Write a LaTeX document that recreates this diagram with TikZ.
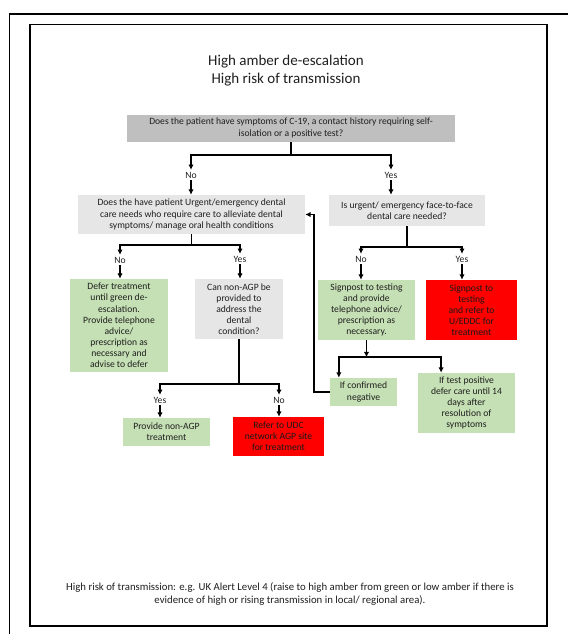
\documentclass[tikz,border=0pt]{standalone}
\usepackage{fontspec}
\setmainfont{Carlito}
\usepackage{tikz}
\usetikzlibrary{
  arrows.meta,%
  positioning,%
  calc
}
\definecolor{darkgrey}{RGB}{191,191,191}
\definecolor{lightgrey}{RGB}{231,230,230}
\definecolor{palegreen}{RGB}{197,224,180}
\definecolor{alertred}{RGB}{255,0,0}
\newcommand{\flowfont}{\fontsize{8.2}{9.5}\selectfont}
\tikzset{>={Latex[length=4.5pt,width=4.5pt]}}
\tikzset{
  flowbox/.style={inner sep=0pt, align=center, font=\flowfont, text=black!88},
  question/.style={flowbox, fill=lightgrey},
  action/.style={flowbox, fill=palegreen},
  referbox/.style={flowbox, fill=alertred, text=black!90},
  answer/.style={font=\flowfont, inner sep=1.5pt, text=black!88},
  flowline/.style={line width=1.4pt},
}

\begin{document}
\begin{tikzpicture}[x=0.03cm, y=-0.03cm]
  \useasboundingbox (0,0) rectangle (568,634);
  % page frames
  \draw[line width=1.7pt] (9.5,650) |- (580,14);
  \draw[line width=0.9pt] (30,24.5) rectangle (547,626);

  \node[font=\fontsize{12.8}{15.3}\selectfont, align=center, text=black!88] (title) at (286,71)
    {High amber de-escalation\\High risk of transmission};

  % first question
  \node[flowbox, fill=darkgrey, minimum width=9.84cm, minimum height=0.81cm] (symptoms) at (291,128)
    {Does the patient have symptoms of C-19, a contact history requiring self-\\isolation or a positive test?};
  \node[answer] (no1) at (191,175) {No};
  \node[answer] (yes1) at (391,175) {Yes};

  \node[question, minimum width=6.81cm, minimum height=1.17cm] (urgent) at (191.5,214.5)
    {Does the have patient Urgent/emergency dental\\care needs who require care to alleviate dental\\symptoms/ manage oral health conditions};
  \node[question, minimum width=4.68cm, minimum height=0.93cm] (facetoface) at (407,210.5)
    {Is urgent/ emergency face-to-face\\dental care needed?};

  % left branch
  \node[answer] (no2) at (120,260) {No};
  \node[answer] (yes2) at (240,259) {Yes};
  \node[action, minimum width=2.94cm, minimum height=2.79cm] (defer) at (119,325.5)
    {Defer treatment\\until green de-\\escalation.\\Provide telephone\\advice/\\prescription as\\necessary and\\advise to defer};
  \node[question, minimum width=2.64cm, minimum height=1.8cm] (nonagp) at (239,309)
    {Can non-AGP be\\provided to\\address the\\dental\\condition?};
  \node[answer] (yes4) at (160,400) {Yes};
  \node[answer] (no4) at (279,400) {No};
  \node[action, minimum width=2.61cm, minimum height=0.84cm] (provide) at (166.5,432)
    {Provide non-AGP\\treatment};
  \node[referbox, minimum width=2.73cm, minimum height=1.17cm] (udc) at (278.5,436.5)
    {Refer to UDC\\network AGP site\\for treatment};

  % right branch
  \node[answer] (no3) at (361,259) {No};
  \node[answer] (yes3) at (462,259) {Yes};
  \node[action, minimum width=2.91cm, minimum height=1.8cm] (signpost) at (366.5,310)
    {Signpost to testing\\and provide\\telephone advice/\\prescription as\\necessary.};
  \node[referbox, minimum width=2.73cm, minimum height=1.8cm] (eddc) at (471.5,310)
    {Signpost to\\testing\\and refer to\\U/EDDC for\\treatment};
  \node[action, minimum width=2.01cm, minimum height=0.84cm] (negative) at (363.5,392)
    {If confirmed\\negative};
  \node[action, minimum width=2.91cm, minimum height=1.8cm] (positive) at (466.5,403)
    {If test positive\\defer care until 14\\days after\\resolution of\\symptoms};

  \node[font=\fontsize{9.2}{11.5}\selectfont, align=center, text=black!88] (note) at (290,594)
    {High risk of transmission: e.g. UK Alert Level 4 (raise to high amber from green or low amber if there is\\evidence of high or rising transmission in local/ regional area).};

  % connectors
  \draw[flowline] (symptoms.south) -- ++(0,13.5) coordinate (j1);
  \draw[flowline,->] (j1) -| (no1);
  \draw[flowline,->] (j1) -| (yes1);
  \draw[flowline,->] (no1) -- (no1 |- urgent.north);
  \draw[flowline,->] (yes1) -- (yes1 |- facetoface.north);

  \draw[flowline] (urgent.south) -- ++(0,11) coordinate (j2);
  \draw[flowline,->] (j2) -| (no2);
  \draw[flowline,->] (j2) -| (yes2);
  \draw[flowline,->] (no2) -- (no2 |- defer.north);
  \draw[flowline,->] (yes2) -- (yes2 |- nonagp.north);

  \draw[flowline] (nonagp.south) -- ++(0,45) coordinate (j4);
  \draw[flowline,->] (j4) -| (yes4);
  \draw[flowline,->] (j4) -| (no4);
  \draw[flowline,->] (yes4) -- (yes4 |- provide.north);
  \draw[flowline,->] (no4) -- (no4 |- udc.north);

  \draw[flowline] (facetoface.south) -- ++(0,21) coordinate (j3);
  \draw[flowline,->] (j3) -| (no3);
  \draw[flowline,->] (j3) -| (yes3);
  \draw[flowline,->] (no3) -- (no3 |- signpost.north);
  \draw[flowline,->] (yes3) -- (yes3 |- eddc.north);

  \draw[flowline,->] (signpost.south) -- ++(0,17) coordinate (j5);
  \draw[flowline,->] (j5) -| (negative.150);
  \draw[flowline,->] (j5) -| (positive.130);
  \draw[flowline,->] (negative.west) -- ++(-16,0) |- (urgent.east);
\end{tikzpicture}
\end{document}
